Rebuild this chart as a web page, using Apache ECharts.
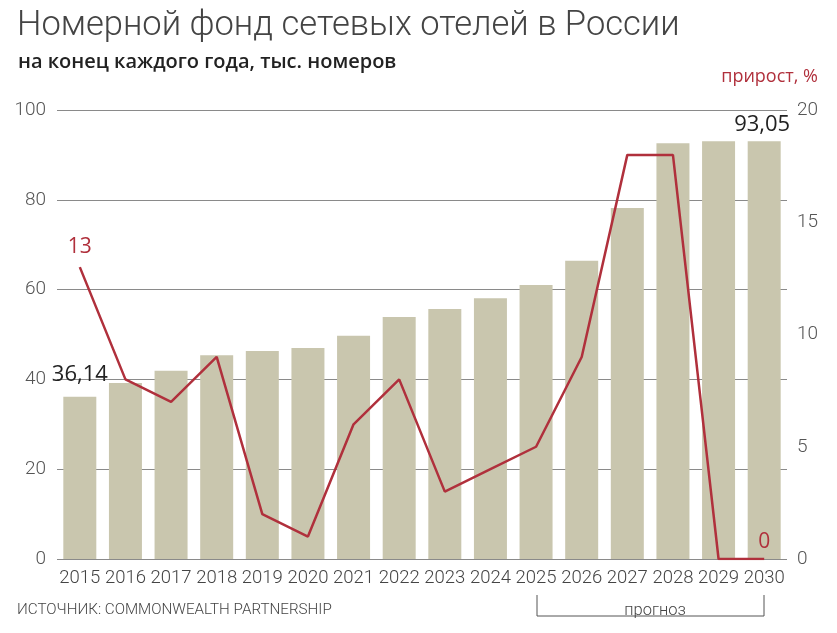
<!DOCTYPE html>
<html><head><meta charset="utf-8">
<script src="https://cdn.jsdelivr.net/npm/echarts@6/dist/echarts.min.js"></script>
<style>html,body{margin:0;padding:0;background:#fff}#c{width:837px;height:633px}</style>
</head><body><div id="c"></div>
<script>
const years = ['2015','2016','2017','2018','2019','2020','2021','2022','2023','2024','2025','2026','2027','2028','2029','2030'];
const rooms = [36.14, 39.2, 41.9, 45.4, 46.3, 47.0, 49.7, 53.9, 55.7, 58.1, 61.0, 66.4, 78.2, 92.6, 93.05, 93.05];
const growth = [13, 8, 7, 9, 2, 1, 6, 8, 3, 4, 5, 9, 18, 18, 0, 0];
const leftTicks = [0, 20, 40, 60, 80, 100];
const rightTicks = [0, 5, 10, 15, 20];

const RED = '#b0303c';
const chart = echarts.init(document.getElementById('c'));
const thin = 'Roboto';
chart.setOption({
  animation: false,
  textStyle: { fontFamily: thin },
  title: [
    { text: 'Номерной фонд сетевых отелей в России', left: 12, top: 4,
      textStyle: { fontFamily: thin, fontWeight: 300, fontSize: 34.5, color: '#444' } },
    { text: 'на конец каждого года, тыс. номеров', left: 13, top: 47,
      textStyle: { fontFamily: 'Open Sans', fontWeight: 600, fontSize: 20, color: '#222' } },
    { text: 'прирост, %', right: 14, top: 63,
      textStyle: { fontFamily: 'Open Sans', fontWeight: 400, fontSize: 18, color: RED } },
    { text: 'ИСТОЧНИК: COMMONWEALTH PARTNERSHIP', left: 12, top: 598,
      textStyle: { fontFamily: thin, fontWeight: 300, fontSize: 15.2, color: '#444' } },
    { text: 'прогноз', left: 650, top: 597, textAlign: 'center',
      textStyle: { fontFamily: thin, fontWeight: 300, fontSize: 16.5, color: '#444' } }
  ],
  graphic: [
    { type: 'polyline', shape: { points: [[537, 595], [537, 616], [764, 616], [764, 595]] },
      style: { stroke: '#555', lineWidth: 1, fill: null } }
  ],
  grid: { left: 57, right: 50, top: 110, bottom: 74 },
  xAxis: {
    type: 'category', data: years,
    axisLine: { show: false }, axisTick: { show: false },
    axisLabel: { fontFamily: thin, fontWeight: 300, fontSize: 18.5, color: '#444', margin: 10, interval: 0 }
  },
  yAxis: [
    { type: 'value', min: 0, max: 100, interval: 20,
      axisLine: { show: false }, axisTick: { show: false },
      axisLabel: { fontFamily: thin, fontWeight: 300, fontSize: 19, color: '#555', margin: 11,
        customValues: leftTicks },
      splitLine: { lineStyle: { color: '#8a8a8a', width: 1.2 } } },
    { type: 'value', min: 0, max: 20, interval: 5,
      axisLine: { show: false }, axisTick: { show: false },
      axisLabel: { fontFamily: thin, fontWeight: 300, fontSize: 19, color: '#555', margin: 10,
        customValues: rightTicks },
      splitLine: { show: false } }
  ],
  series: [
    { type: 'bar', data: rooms.map((v, i) => ({
        value: v,
        label: (i === 0 || i === rooms.length - 1) ? {
          show: true, position: 'top', distance: i === 0 ? 11 : 5, offset: [i === 0 ? 0 : -2, 0],
          formatter: (p) => String(p.value).replace('.', ','),
          fontFamily: 'Open Sans', fontSize: 22, color: '#222' } : { show: false }
      })),
      barWidth: 33, itemStyle: { color: '#c9c6ae' }, z: 1 },
    { type: 'line', yAxisIndex: 1, data: growth.map((v, i) => ({
        value: v,
        label: (i === 0 || i === growth.length - 1) ? {
          show: true, position: 'top', distance: i === 0 ? 10 : 6,
          fontFamily: 'Open Sans', fontSize: 21, color: RED } : { show: false }
      })),
      showSymbol: true, symbol: 'circle', symbolSize: 0.1,
      itemStyle: { color: RED },
      lineStyle: { color: RED, width: 2.5 }, z: 3 }
  ]
});
</script>
</body></html>
